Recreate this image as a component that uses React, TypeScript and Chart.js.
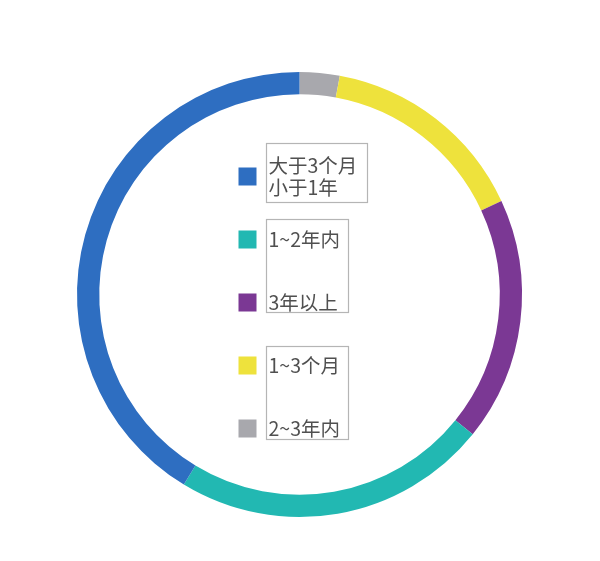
import React, { useEffect, useRef } from "react";
import Chart from "chart.js/auto";

// legend order (top to bottom)
const labels: string[][] = [["大于3个月", "小于1年"], ["1~2年内"], ["3年以上"], ["1~3个月"], ["2~3年内"]];
const values: number[] = [41.3, 22.9, 17.7, 15.2, 2.9];
const colors: string[] = ["#2E6EC1", "#22B8B2", "#7B3894", "#EEE23C", "#A8A8AD"];

const FONT = '"Noto Sans CJK SC", "Noto Sans", sans-serif';

// legend drawn inside the ring, with the grey frames seen in the source
const centerLegend = {
  id: "centerLegend",
  afterDraw(chart: any) {
    const { ctx, chartArea } = chart;
    const cx = (chartArea.left + chartArea.right) / 2;
    const cy = (chartArea.top + chartArea.bottom) / 2;
    const boxX = cx - 61;
    const textX = cx - 31;
    const startY = cy - 118;
    const step = 63;

    ctx.save();
    ctx.font = `19.5px ${FONT}`;
    ctx.textBaseline = "middle";
    ctx.textAlign = "left";
    labels.forEach((lines, i) => {
      const y = startY + i * step;
      ctx.fillStyle = colors[i];
      ctx.fillRect(boxX, y - 9, 18, 18);
      ctx.fillStyle = "#505050";
      const lh = 22;
      const y0 = y - ((lines.length - 1) * lh) / 2;
      lines.forEach((t, j) => ctx.fillText(t, textX, y0 + j * lh));
    });

    ctx.strokeStyle = "#b5b5b5";
    ctx.lineWidth = 1.2;
    ctx.strokeRect(textX - 2, startY - 33, 101, 59);
    ctx.strokeRect(textX - 2, startY + step - 20, 82, 93);
    ctx.strokeRect(textX - 2, startY + 3 * step - 19, 82, 93);
    ctx.restore();
  },
};

const App: React.FC = () => {
  const chartRef = useRef<HTMLCanvasElement>(null);

  useEffect(() => {
    if (!chartRef.current) return;
    const ctx = chartRef.current.getContext("2d");
    if (!ctx) return;

    // the ring runs counter-clockwise in legend order, so feed it reversed
    const myChart = new Chart(ctx, {
      type: "doughnut",
      data: {
        labels: labels.map((l) => l.join("")).reverse(),
        datasets: [
          {
            data: values.slice().reverse(),
            backgroundColor: colors.slice().reverse(),
            borderWidth: 0,
            hoverOffset: 0,
            offset: 0,
          },
        ],
      },
      options: {
        animation: false,
        responsive: true,
        maintainAspectRatio: false,
        cutout: "90%",
        layout: { padding: { left: 77, right: 78, top: 72, bottom: 44 } },
        plugins: {
          legend: { display: false },
          tooltip: { enabled: false },
        },
      },
      plugins: [centerLegend],
    });

    return () => {
      myChart.destroy();
    };
  }, []);

  return (
    <div style={{ position: "fixed", left: 0, top: 0, width: 600, height: 561, background: "#fff" }}>
      <canvas ref={chartRef} />
    </div>
  );
};

export default App;
